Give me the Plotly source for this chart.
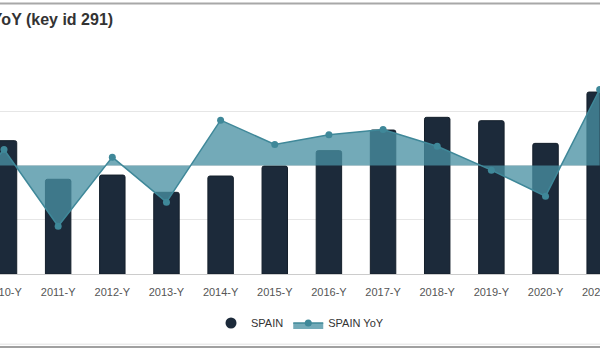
import plotly.graph_objects as go

# ---- data ----
categories = ["2009-Y", "2010-Y", "2011-Y", "2012-Y", "2013-Y", "2014-Y", "2015-Y",
              "2016-Y", "2017-Y", "2018-Y", "2019-Y", "2020-Y", "2021-Y"]
spain = [None, 122.9, 87.3, 91.2, 75.3, 90.3, 99.5, 113.7, 132.7, 144.4, 141.3, 120.4, 167.7]
spain_yoy = [-4.4, 1.47, -5.59, 0.77, -3.38, 4.18, 1.94, 2.83, 3.32, 1.78, -0.43, -2.83, 7.0]
title_text = "SPAIN YoY (key id 291)"

W, H = 600, 350
PLOT_TOP, PLOT_BOTTOM = 57, 274
PH = PLOT_BOTTOM - PLOT_TOP

def py(pix):
    return (PLOT_BOTTOM - pix) / PH

font_family = "Liberation Sans, Arial, Helvetica, sans-serif"
bar_color = "#1c2a3a"
teal = "#3f8899"

fig = go.Figure()
fig.add_trace(go.Bar(
    x=categories, y=spain, name="SPAIN", showlegend=False,
    marker=dict(color=bar_color, line=dict(color="#141f2b", width=1), cornerradius=2),
    yaxis="y",
))
fig.add_trace(go.Scatter(
    x=[None], y=[None], name="SPAIN", mode="markers",
    marker=dict(symbol="circle", size=11, color=bar_color),
))
fig.add_trace(go.Scatter(
    x=categories, y=spain_yoy, name="SPAIN YoY", yaxis="y2",
    mode="lines+markers", fill="tozeroy",
    fillcolor="rgba(73,145,163,0.77)",
    line=dict(color=teal, width=1.5),
    marker=dict(size=7, color=teal),
))

fig.update_layout(
    width=W, height=H,
    margin=dict(l=0, r=0, t=PLOT_TOP, b=H - PLOT_BOTTOM, autoexpand=False),
    paper_bgcolor="white", plot_bgcolor="white",
    font=dict(family=font_family, size=11, color="#444"),
    bargap=0.53,
    xaxis=dict(type="category", range=[0.926, 12.006], showgrid=False,
               showline=True, linecolor="#cccccc", linewidth=1,
               ticks="outside", ticklen=8, tickcolor="rgba(0,0,0,0)",
               tickfont=dict(size=11, color="#555"), automargin=False),
    yaxis=dict(range=[0, 200.01], tickvals=[0, 50, 100, 150, 200], gridcolor="#e6e6e6",
               gridwidth=1, showticklabels=False, zeroline=False, automargin=False),
    yaxis2=dict(range=[-10, 10], overlaying="y", side="right", showgrid=False,
                showticklabels=False, zeroline=False, automargin=False),
    legend=dict(orientation="h", x=0.5, xanchor="center", yref="container",
                y=1 - 323 / H, yanchor="middle", font=dict(size=11, color="#333"),
                itemwidth=30, bgcolor="rgba(0,0,0,0)"),
    showlegend=True,
    annotations=[dict(text=title_text, xref="paper", yref="paper",
                      x=115 / W, y=py(19), xanchor="right", yanchor="middle",
                      showarrow=False,
                      font=dict(size=16, color="#333", family=font_family, weight="bold"))],
    shapes=[
        dict(type="line", xref="paper", yref="paper", x0=0, x1=1, y0=py(3.5), y1=py(3.5),
             line=dict(color="#a8a8a8", width=2)),
        dict(type="line", xref="paper", yref="paper", x0=0, x1=1, y0=py(344.3), y1=py(344.3),
             line=dict(color="#ebebeb", width=1.5)),
        dict(type="line", xref="paper", yref="paper", x0=0, x1=1, y0=py(347), y1=py(347),
             line=dict(color="#a0a0a0", width=2)),
    ],
)

fig.write_html("out.html")
